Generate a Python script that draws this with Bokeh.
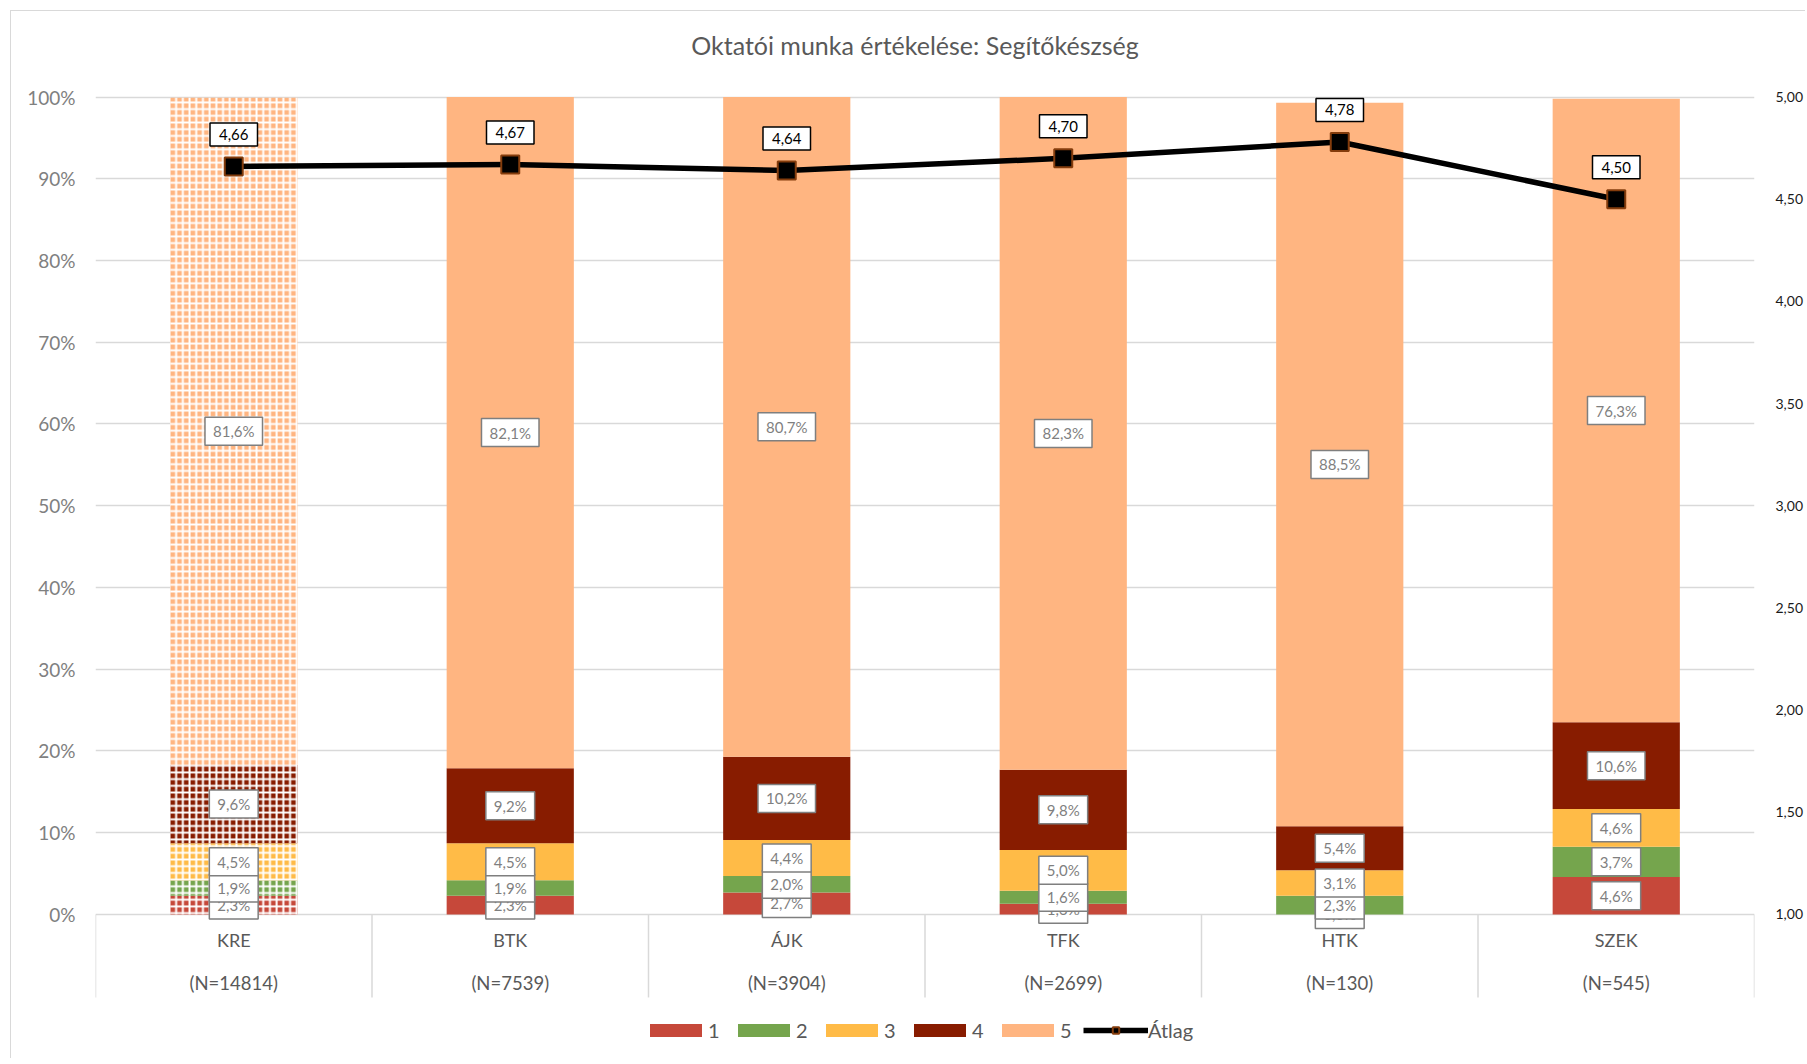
import numpy as np
from bokeh.plotting import figure
from bokeh.models import (ColumnDataSource, Range1d, LinearAxis, FixedTicker,
                          CustomJSTickFormatter, Legend, LegendItem, Grid)
from bokeh.core.properties import value, field
from bokeh.embed import file_html
from bokeh.resources import INLINE

# ---------------- data ----------------
title = "Oktatói munka értékelése: Segítőkészség"
categories = ["KRE", "BTK", "ÁJK", "TFK", "HTK", "SZEK"]
n_labels = ["(N=14814)", "(N=7539)", "(N=3904)", "(N=2699)", "(N=130)", "(N=545)"]
series_names = ["1", "2", "3", "4", "5"]
s1 = [2.3, 2.3, 2.7, 1.3, 0.0, 4.6]
s2 = [1.9, 1.9, 2.0, 1.6, 2.3, 3.7]
s3 = [4.5, 4.5, 4.4, 5.0, 3.1, 4.6]
s4 = [9.6, 9.2, 10.2, 9.8, 5.4, 10.6]
s5 = [81.6, 82.1, 80.7, 82.3, 88.5, 76.3]
atlag = [4.66, 4.67, 4.64, 4.70, 4.78, 4.50]
hatched_categories = ["KRE"]

y_ticks = [0, 10, 20, 30, 40, 50, 60, 70, 80, 90, 100]
y_tick_labels = ["0%", "10%", "20%", "30%", "40%", "50%", "60%", "70%", "80%", "90%", "100%"]
right_ticks = [1.0, 1.5, 2.0, 2.5, 3.0, 3.5, 4.0, 4.5, 5.0]
right_tick_labels = ["1,00", "1,50", "2,00", "2,50", "3,00", "3,50", "4,00", "4,50", "5,00"]

series_values = [s1, s2, s3, s4, s5]
series_colors = ["#C6483A", "#75A54D", "#FFBB47", "#881C00", "#FFB581"]

# ---------------- figure ----------------
# the frame spans the full canvas height; the band below 0 holds the category labels
Y_LO, Y_HI = -17.74, 110.46
BAND_LO = -10.15
scale = (right_ticks[-1] - right_ticks[0]) / (y_ticks[-1] - y_ticks[0])
n = len(categories)
centers = [i + 0.5 for i in range(n)]
bounds = [float(i) for i in range(n + 1)]

p = figure(width=1795, height=1048, output_backend="svg", toolbar_location=None,
           x_range=Range1d(0, n), y_range=Range1d(Y_LO, Y_HI),
           x_axis_type=None, y_axis_type=None,
           min_border_left=84, min_border_right=47, min_border_top=0, min_border_bottom=0,
           background_fill_color="white", border_fill_color="white",
           styles={"margin-left": "10px", "margin-top": "10px",
                   "border-top": "1px solid #d9d9d9", "border-left": "1px solid #d9d9d9"})
p.outline_line_color = None
p.extra_y_ranges = {"mean": Range1d(right_ticks[0] + Y_LO * scale, right_ticks[0] + Y_HI * scale)}

fmt_code = "const i = t.indexOf(tick); return i < 0 ? '' : l[i];"

left_axis = LinearAxis(ticker=FixedTicker(ticks=y_ticks),
                       formatter=CustomJSTickFormatter(args=dict(t=y_ticks, l=y_tick_labels), code=fmt_code),
                       axis_line_color=None, major_tick_line_color=None, minor_tick_line_color=None,
                       major_label_text_font="Lato", major_label_text_font_size="19px",
                       major_label_text_color="#808080", major_label_standoff=14)
p.add_layout(left_axis, "left")

right_axis = LinearAxis(y_range_name="mean", ticker=FixedTicker(ticks=right_ticks),
                        formatter=CustomJSTickFormatter(args=dict(t=right_ticks, l=right_tick_labels), code=fmt_code),
                        axis_line_color=None, major_tick_line_color=None, minor_tick_line_color=None,
                        major_label_text_font="Lato", major_label_text_font_size="14px",
                        major_label_text_color="#1a1a1a", major_label_standoff=15)
p.add_layout(right_axis, "right")

p.center.append(Grid(dimension=1, ticker=FixedTicker(ticks=y_ticks),
                     grid_line_color="#d9d9d9", grid_line_width=1.5))

# title
p.text(x=[n / 2], y=[y_ticks[-1]], text=[title], y_offset=-52, x_offset=-10,
       text_align="center", text_baseline="middle",
       text_font=value("Lato"), text_font_size="25px", text_color="#595959")

# category band: separators and labels
p.segment(x0=bounds, y0=[BAND_LO] * len(bounds), x1=bounds, y1=[0] * len(bounds),
          line_color="#d9d9d9", line_width=1.5)
p.text(x=centers, y=[0] * n, text=categories, y_offset=26,
       text_align="center", text_baseline="middle",
       text_font=value("Lato"), text_font_size="18px", text_color="#595959")
p.text(x=centers, y=[0] * n, text=n_labels, y_offset=69,
       text_align="center", text_baseline="middle",
       text_font=value("Lato"), text_font_size="18.5px", text_color="#595959")

# ---------------- bars ----------------
def pct(v):
    return f"{v:.1f}".replace(".", ",") + "%"

bottoms = np.zeros(n)
sources = []
bar_renderers = []
hatch_col = ["cross" if c in hatched_categories else " " for c in categories]
for name, vals, color in zip(series_names, series_values, series_colors):
    vals = np.array(vals, dtype=float)
    tops = bottoms + vals
    src = ColumnDataSource(dict(x=centers, bottom=bottoms.copy(), top=tops,
                                mid=bottoms + vals / 2, label=[pct(v) for v in vals],
                                hatch=hatch_col))
    r = p.vbar(x="x", bottom="bottom", top="top", width=0.46, source=src,
               fill_color=color, line_color=None,
               hatch_pattern=field("hatch"), hatch_color="white",
               hatch_scale=6.7, hatch_weight=2)
    sources.append(src)
    bar_renderers.append(r)
    bottoms = tops

for src in sources:
    p.text(x="x", y="mid", text="label", source=src,
           text_align="center", text_baseline="middle",
           text_font=value("Lato"), text_font_size="15px", text_color="#7f7f7f",
           background_fill_color="white", border_line_color="#7f7f7f",
           border_line_width=1.5, padding=(8, 5))

# ---------------- mean line ----------------
msrc = ColumnDataSource(dict(x=centers, y=atlag,
                             label=[f"{v:.2f}".replace(".", ",") for v in atlag]))
line_r = p.line(x="x", y="y", source=msrc, y_range_name="mean",
                line_color="black", line_width=5.5)
mark_r = p.scatter(x="x", y="y", source=msrc, y_range_name="mean", marker="square",
                   size=18, fill_color="black", line_color="#843C0C", line_width=2)
p.text(x="x", y="y", text="label", source=msrc, y_range_name="mean", y_offset=-32,
       text_align="center", text_baseline="middle",
       text_font=value("Lato"), text_font_size="15px", text_color="black",
       background_fill_color="white", border_line_color="black",
       border_line_width=1.5, padding=(9, 6))

# ---------------- legend ----------------
items = [LegendItem(label=nm, renderers=[r], index=1) for nm, r in zip(series_names, bar_renderers)]
items.append(LegendItem(label="Átlag", renderers=[line_r, mark_r], index=1))
legend = Legend(items=items, orientation="horizontal", location=(548, 17),
                glyph_width=65, glyph_height=16, label_standoff=0, spacing=3,
                padding=0, margin=0, border_line_color=None, background_fill_alpha=0,
                label_text_font="Lato", label_text_font_size="20px",
                label_text_color="#595959")
p.add_layout(legend, "center")

open("out.html", "w").write(file_html(p, INLINE))
